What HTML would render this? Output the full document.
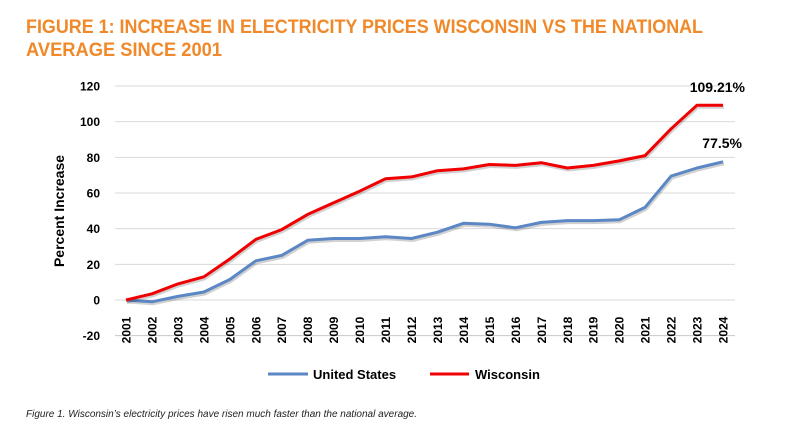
<!DOCTYPE html>
<html><head><meta charset="utf-8"><style>
html,body{margin:0;padding:0;background:#fff;}
svg{display:block;font-family:"Liberation Sans",Arial,sans-serif;}
</style></head><body>
<svg id="chart" width="793" height="432" viewBox="0 0 793 432">
<text x="26" y="33" font-size="19" font-weight="bold" fill="#F0892A" textLength="677" lengthAdjust="spacingAndGlyphs">FIGURE 1: INCREASE IN ELECTRICITY PRICES WISCONSIN VS THE NATIONAL</text>
<text x="26" y="56" font-size="19" font-weight="bold" fill="#F0892A" textLength="196" lengthAdjust="spacingAndGlyphs">AVERAGE SINCE 2001</text>
<g id="grid"></g>
<g id="yticks"></g>
<g id="xticks"></g>
<text transform="translate(64,211) rotate(-90)" text-anchor="middle" font-size="14" font-weight="bold" fill="#000">Percent Increase</text>
<g id="series"></g>
<text x="745" y="92" text-anchor="end" font-size="14" font-weight="bold" fill="#000">109.21%</text>
<text x="742" y="148" text-anchor="end" font-size="14" font-weight="bold" fill="#000">77.5%</text>
<g>
<line x1="268" y1="374" x2="308" y2="374" stroke="#5B87C5" stroke-width="3"/>
<text x="313" y="379" font-size="13" font-weight="bold">United States</text>
<line x1="430" y1="374" x2="469" y2="374" stroke="#F00000" stroke-width="3"/>
<text x="475" y="379" font-size="13" font-weight="bold">Wisconsin</text>
</g>
<text x="26" y="417" font-size="10" font-style="italic" fill="#222">Figure 1. Wisconsin’s electricity prices have risen much faster than the national average.</text>
</svg>
<script>
const years=["2001","2002","2003","2004","2005","2006","2007","2008","2009","2010","2011","2012","2013","2014","2015","2016","2017","2018","2019","2020","2021","2022","2023","2024"];
const usValues=[0,-1,2,4.5,11.5,22,25,33.5,34.5,34.5,35.5,34.5,38,43,42.5,40.5,43.5,44.5,44.5,45,52,69.5,74,77.5];
const wiValues=[0,3.5,9,13,23,34,39.5,48,54.5,61,68,69,72.5,73.5,76,75.5,77,74,75.5,78,81,96,109.21,109.21];
const yTicks=[-20,0,20,40,60,80,100,120];
const NS="http://www.w3.org/2000/svg";
const x0=126,x1=723,gl=115,gr=735;
const xS=i=>x0+(x1-x0)*i/(years.length-1);
const yS=v=>300-v*(300-86)/120;
function mk(t,a,p){const e=document.createElementNS(NS,t);for(const k in a)e.setAttribute(k,a[k]);p.appendChild(e);return e;}
const grid=document.getElementById('grid'),yt=document.getElementById('yticks'),xt=document.getElementById('xticks'),se=document.getElementById('series');
yTicks.forEach(v=>{
 const l=mk('line',{x1:gl,x2:gr,y1:yS(v),y2:yS(v),stroke:v===-20?'#c8c8c8':'#d9d9d9','stroke-width':1},grid);
 
 
 const t=mk('text',{x:100,y:yS(v)+4.5,'text-anchor':'end','font-size':12,'font-weight':'bold'},yt);
 t.textContent=v;
 
 
});
years.forEach((y,i)=>{
 const t=mk('text',{transform:`translate(${xS(i)+4.5},330) rotate(-90)`,'text-anchor':'middle','font-size':12,'font-weight':'bold'},xt);
 t.textContent=y;
 
 
});
function line(vals,color,name){
 const pts=vals.map((v,i)=>xS(i).toFixed(1)+','+yS(v).toFixed(1)).join(' ');
 const sh=mk('polyline',{points:pts,fill:'none',stroke:'rgba(0,0,0,0.18)','stroke-width':3,transform:'translate(1,2)','stroke-linejoin':'round'},se);
 
 
 const p=mk('polyline',{points:pts,fill:'none',stroke:color,'stroke-width':3,'stroke-linejoin':'round'},se);
 
 
}
line(usValues,'#5B87C5','us-line');
line(wiValues,'#F00000','wisconsin-line');
</script>
</body></html>
